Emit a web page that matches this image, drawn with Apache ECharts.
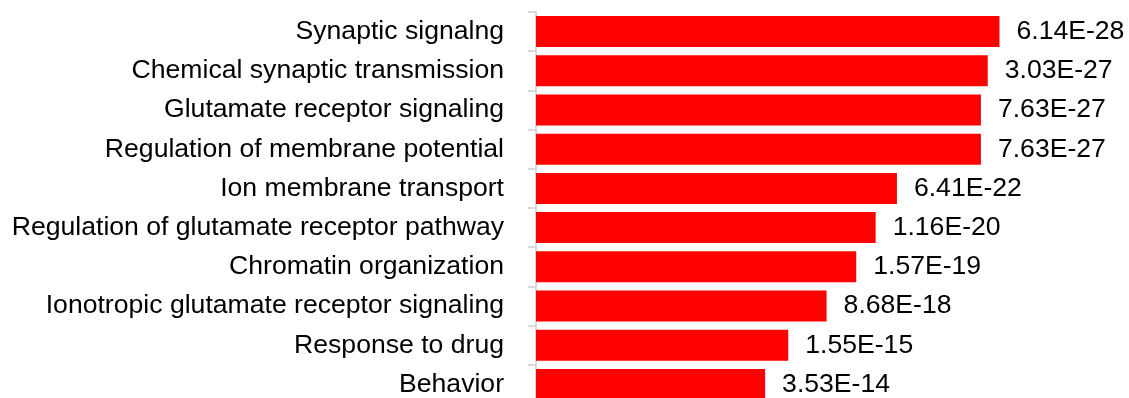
<!DOCTYPE html>
<html>
<head>
<meta charset="utf-8">
<script src="https://cdn.jsdelivr.net/npm/echarts@6/dist/echarts.min.js"></script>
<style>
html,body{margin:0;padding:0;background:#fff;overflow:hidden;}
#chart{width:1129px;height:410px;}
</style>
</head>
<body>
<div id="chart"></div>
<script>
// Data
const categories = [
  'Synaptic signalng',
  'Chemical synaptic transmission',
  'Glutamate receptor signaling',
  'Regulation of membrane potential',
  'Ion membrane transport',
  'Regulation of glutamate receptor pathway',
  'Chromatin organization',
  'Ionotropic glutamate receptor signaling',
  'Response to drug',
  'Behavior'
];
// Bar lengths (-log10 p-value)
const barValues = [27.21, 26.52, 26.12, 26.12, 21.19, 19.94, 18.80, 17.06, 14.81, 13.45];
// Value labels shown at bar ends
const pValueLabels = ['6.14E-28', '3.03E-27', '7.63E-27', '7.63E-27', '6.41E-22', '1.16E-20', '1.57E-19', '8.68E-18', '1.55E-15', '3.53E-14'];

const chart = echarts.init(document.getElementById('chart'), null, {renderer: 'canvas'});
const font = 'Liberation Sans, Arial, Helvetica, sans-serif';
chart.setOption({
  animation: false,
  backgroundColor: '#ffffff',
  grid: {left: 536, top: 12, width: 511, height: 392, containLabel: false},
  xAxis: {
    type: 'value', min: 0, max: 30, show: false
  },
  yAxis: {
    type: 'category',
    data: categories,
    inverse: true,
    axisLine: {show: true, lineStyle: {color: '#d9d9d9', width: 2}},
    axisTick: {show: true, length: 8, lineStyle: {color: '#d9d9d9', width: 2}},
    axisLabel: {color: '#000', fontSize: 26.6, fontFamily: font, margin: 32}
  },
  series: [{
    type: 'bar',
    data: barValues,
    barWidth: 31,
    itemStyle: {color: '#ff0000'},
    label: {
      show: true,
      position: 'right',
      distance: 17,
      color: '#000',
      fontSize: 26.6,
      fontFamily: font,
      formatter: p => pValueLabels[p.dataIndex]
    }
  }]
});
</script>
</body>
</html>
